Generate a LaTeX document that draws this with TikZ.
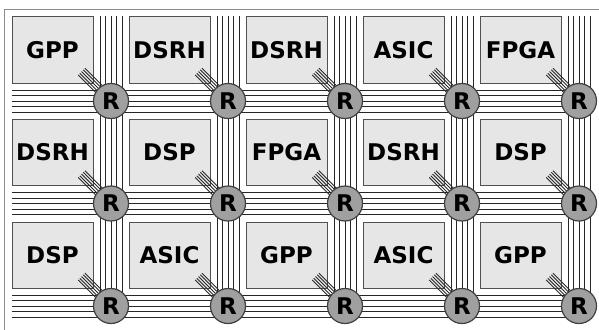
\documentclass[tikz,border=0pt]{standalone}
\usepackage{fontspec}
\setmainfont{DejaVu Sans}
\usetikzlibrary{calc, backgrounds}
\pgfdeclarelayer{front}
\pgfsetlayers{background,main,front}
\definecolor{boxfill}{HTML}{E6E6E6}
\definecolor{boxline}{HTML}{505050}
\definecolor{ringfill}{HTML}{A0A0A0}
\definecolor{ringline}{HTML}{404040}
\definecolor{frameline}{HTML}{8C8C8C}

\begin{document}
\begin{tikzpicture}[x=1pt, y=-1pt,
    pe/.style={draw=boxline, fill=boxfill, line width=1pt, minimum width=81pt, minimum height=66pt, inner sep=0pt, font=\fontsize{23}{23}\selectfont\bfseries},
    router/.style={draw=ringline, fill=ringfill, line width=1.2pt, circle, minimum size=35pt, inner sep=0pt, font=\fontsize{23}{23}\selectfont\bfseries},
    wire/.style={line width=0.9pt, black!85}]
        \useasboundingbox (0,0) rectangle (599,329);
        \draw[frameline, line width=1.5pt] (4.5,9.5) rectangle (650,380);

        % processing elements
        \node[pe] (pe11) at (52.5,50) {GPP};
        \node[pe] (pe12) at (169.5,50) {DSRH};
        \node[pe] (pe13) at (286.5,50) {DSRH};
        \node[pe] (pe14) at (403.5,50) {ASIC};
        \node[pe] (pe15) at (520.5,50) {FPGA};
        \node[pe] (pe21) at (52.5,152.5) {DSRH};
        \node[pe] (pe22) at (169.5,152.5) {DSP};
        \node[pe] (pe23) at (286.5,152.5) {FPGA};
        \node[pe] (pe24) at (403.5,152.5) {DSRH};
        \node[pe] (pe25) at (520.5,152.5) {DSP};
        \node[pe] (pe31) at (52.5,255) {DSP};
        \node[pe] (pe32) at (169.5,255) {ASIC};
        \node[pe] (pe33) at (286.5,255) {GPP};
        \node[pe] (pe34) at (403.5,255) {ASIC};
        \node[pe] (pe35) at (520.5,255) {GPP};

        % routers
        \begin{pgfonlayer}{front}
        \node[router] (r11) at (111,101) {R};
        \node[router] (r12) at (228,101) {R};
        \node[router] (r13) at (345,101) {R};
        \node[router] (r14) at (462,101) {R};
        \node[router] (r15) at (579,101) {R};
        \node[router] (r21) at (111,203.5) {R};
        \node[router] (r22) at (228,203.5) {R};
        \node[router] (r23) at (345,203.5) {R};
        \node[router] (r24) at (462,203.5) {R};
        \node[router] (r25) at (579,203.5) {R};
        \node[router] (r31) at (111,306) {R};
        \node[router] (r32) at (228,306) {R};
        \node[router] (r33) at (345,306) {R};
        \node[router] (r34) at (462,306) {R};
        \node[router] (r35) at (579,306) {R};
        \end{pgfonlayer}

        % buses
        \foreach \row in {1,2,3}
            \foreach \k in {-11,-5.5,0,5.5,11}
                \draw[wire] ($(pe\row1.west |- r\row1)+(0,\k)$) -- ($(r\row5)+(0,\k)$);
        \foreach \col in {1,...,5}
            \foreach \k in {-11,-5.5,0,5.5,11}
                \draw[wire] ($(r1\col |- pe1\col.north)+(\k,0)$) -- ($(r3\col)+(\k,0)$);

        % links from each element to its router
        \foreach \row in {1,2,3}
            \foreach \col in {1,...,5}
                \foreach \k in {-2,...,2}
                    \draw[wire] ($(pe\row\col.south east)+(-12+1.7*\k,-12-1.7*\k)$) -- ($(r\row\col)+(1.7*\k,-1.7*\k)$);
    \end{tikzpicture}
\end{document}
